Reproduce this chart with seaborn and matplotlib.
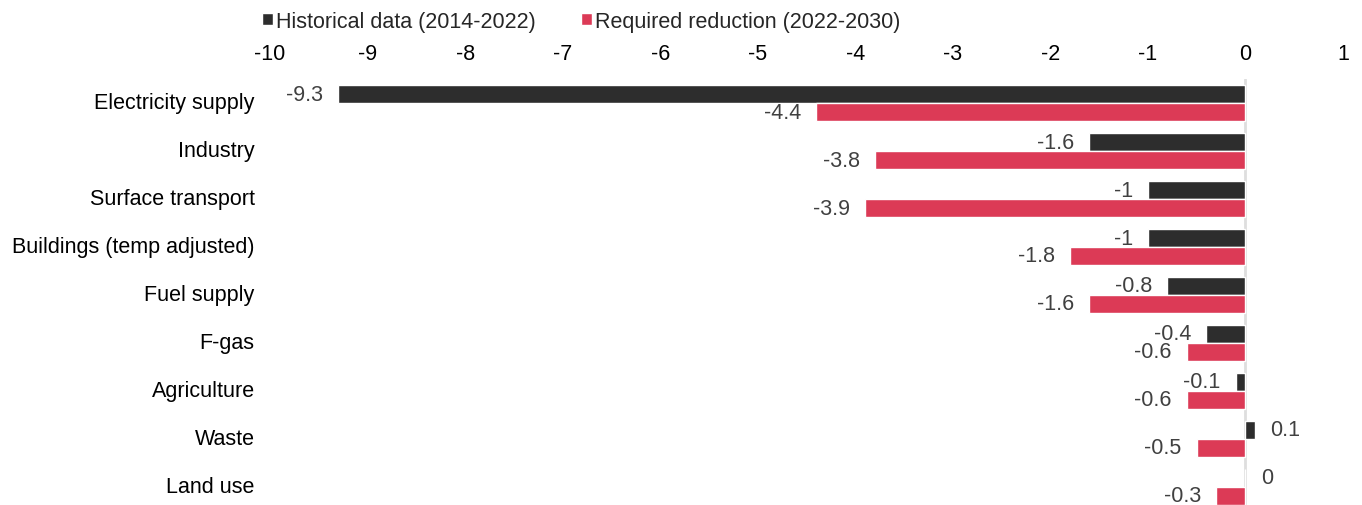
import matplotlib
matplotlib.use("Agg")
import matplotlib.pyplot as plt
import matplotlib.transforms as mtransforms
import seaborn as sns
import pandas as pd

sectors = ["Electricity supply", "Industry", "Surface transport",
           "Buildings (temp adjusted)", "Fuel supply", "F-gas",
           "Agriculture", "Waste", "Land use"]
historical = [-9.3, -1.6, -1.0, -1.0, -0.8, -0.4, -0.1, 0.1, 0.0]
required = [-4.4, -3.8, -3.9, -1.8, -1.6, -0.6, -0.6, -0.5, -0.3]
series_names = ["Historical data (2014-2022)", "Required reduction (2022-2030)"]
colors = ["#2d2d2d", "#dc3a56"]

df = pd.DataFrame({
    "sector": sectors * 2,
    "value": historical + required,
    "series": [series_names[0]] * len(sectors) + [series_names[1]] * len(sectors),
})

sns.set_style("white")
plt.rcParams["font.family"] = ["Liberation Sans", "DejaVu Sans"]
FS = 15.5

fig = plt.figure(figsize=(13.62, 5.06), dpi=100)
ax = fig.add_axes([270 / 1362, -6 / 506, 1073 / 1362, 432 / 506])

sns.barplot(data=df, x="value", y="sector", hue="series", orient="h",
            palette=colors, width=0.75, saturation=1, ax=ax, legend=True)

ax.set_xlim(-10, 1)
ax.set_ylim(len(sectors) - 0.5, -0.5)
ax.set_xticks(range(-10, 2))
ax.set_xticklabels([str(t) for t in range(-10, 2)])
ax.xaxis.tick_top()
ax.tick_params(axis="x", length=0, pad=11, labelsize=FS, colors="#000000")
ax.tick_params(axis="y", length=0, pad=11, labelsize=FS, colors="#000000")
# nudge category labels slightly above the bar-pair centre
shift = mtransforms.ScaledTranslation(0, 3 / 100, fig.dpi_scale_trans)
for lbl in ax.get_yticklabels():
    lbl.set_transform(lbl.get_transform() + shift)
ax.set_xlabel("")
ax.set_ylabel("")
for s in ax.spines.values():
    s.set_visible(False)
ax.axvline(0, color="#dedede", lw=2, zorder=0)

def fmt(v):
    return f"{v:g}"

for cont, vals in zip(ax.containers, [historical, required]):
    ax.bar_label(cont, labels=[fmt(v) for v in vals], padding=11,
                 fontsize=FS, color="#404040")

leg = ax.legend(loc="center left", bbox_to_anchor=(-0.007, 1.134), ncol=2,
                frameon=False, fontsize=FS, handlelength=0.5, handleheight=0.5,
                handletextpad=0.15, columnspacing=2.1, borderaxespad=0,
                borderpad=0)

fig.savefig("out.png", dpi=100)
